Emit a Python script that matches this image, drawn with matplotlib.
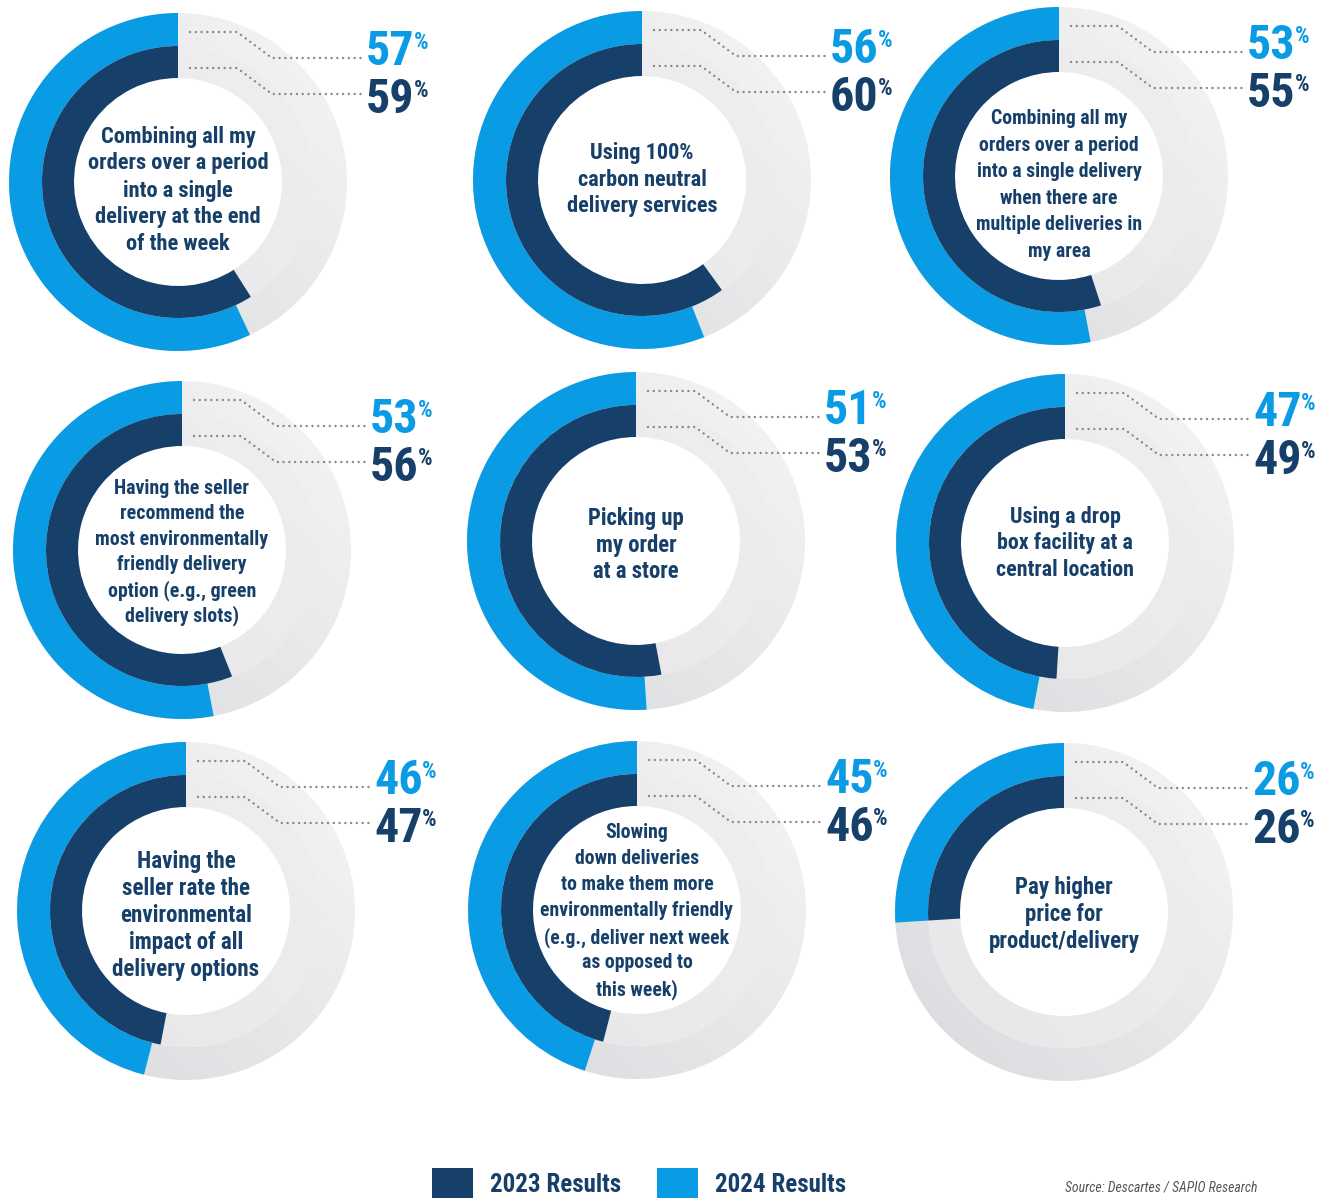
import matplotlib
matplotlib.use('Agg')
import matplotlib.pyplot as plt
import numpy as np
from matplotlib import font_manager
from matplotlib.patches import Wedge, Patch
from matplotlib.colors import LinearSegmentedColormap

W, H = 1326, 1198

# survey answers, in reading order (left to right, top to bottom)
questions = [
    'Combining all my\norders over a period\ninto a single\ndelivery at the end\nof the week',
    'Using 100%\ncarbon neutral\ndelivery services',
    'Combining all my\norders over a period\ninto a single delivery\nwhen there are\nmultiple deliveries in\nmy area',
    'Having the seller\nrecommend the\nmost environmentally\nfriendly delivery\noption (e.g., green\ndelivery slots)',
    'Picking up\nmy order\nat a store',
    'Using a drop\nbox facility at a\ncentral location',
    'Having the\nseller rate the\nenvironmental\nimpact of all\ndelivery options',
    'Slowing\ndown deliveries\nto make them more\nenvironmentally friendly\n(e.g., deliver next week\nas opposed to\nthis week)',
    'Pay higher\nprice for\nproduct/delivery',
]
results_2024 = [57, 56, 53, 53, 51, 47, 46, 45, 26]
results_2023 = [59, 60, 55, 56, 53, 49, 47, 46, 26]
legend_labels = ['2023 Results', '2024 Results']
source_note = 'Source: Descartes / SAPIO Research'

navy = '#163f69'
blue = '#0a9be5'
dot_grey = '#8a8a8a'

# a condensed face if one is around, otherwise plain Roboto
available = {f.name for f in font_manager.fontManager.ttflist}
cond = 'Roboto'
for name in ('Roboto Condensed', 'Liberation Sans Narrow'):
    if name in available:
        cond = name
        break

# donut centres in pixel coords (y down), caption size, line step and shift (px)
centres = [(178, 182), (642, 180), (1059, 176),
           (182, 550), (636, 541), (1065, 543),
           (186, 911), (637, 910), (1064, 912)]
caption_sizes = [16.1, 16.0, 14.2, 14.3, 16.4, 15.8, 16.6, 14.2, 16.5]
line_steps = [27, 26.5, 26.5, 25.5, 26.5, 26.5, 27, 26, 27]
caption_shift = [4, -5, 5, -2, 0, -4, 0, -3, -2]

r_out, r_mid, r_in = 169, 136, 104

outer_cmap = LinearSegmentedColormap.from_list('outer', ['#d9dadd', '#f6f6f7'])
inner_cmap = LinearSegmentedColormap.from_list('inner', ['#e6e6e8', '#f0f0f1'])
grad = np.add.outer(np.linspace(1, 0, 64), np.linspace(0, 1, 64))

fig = plt.figure(figsize=(W / 100, H / 100), dpi=100)
ax = fig.add_axes([0, 0, 1, 1])

for q, v24, v23, (px, py), fs, step, shift in zip(questions, results_2024, results_2023,
                                                  centres, caption_sizes, line_steps,
                                                  caption_shift):
    cx, cy = px, H - py
    ext = (cx - r_out, cx + r_out, cy - r_out, cy + r_out)

    # grey track with a soft diagonal gradient
    for r, w, cmap in ((r_out, r_out - r_mid, outer_cmap), (r_mid, r_mid - r_in, inner_cmap)):
        ring = Wedge((cx, cy), r, 0, 360, width=w, facecolor='none', edgecolor='none')
        ax.add_patch(ring)
        im = ax.imshow(grad, cmap=cmap, extent=ext, vmin=0, vmax=2,
                       interpolation='bicubic', zorder=1)
        im.set_clip_path(ring)

    ax.pie([v24, 100 - v24], radius=r_out, center=(cx, cy), startangle=90,
           counterclock=True, colors=[blue, 'none'],
           wedgeprops=dict(width=r_out - r_mid, linewidth=0, zorder=2))
    ax.pie([v23, 100 - v23], radius=r_mid, center=(cx, cy), startangle=90,
           counterclock=True, colors=[navy, 'none'],
           wedgeprops=dict(width=r_mid - r_in, linewidth=0, zorder=2))

    # dotted leader lines to the numbers
    for top in (150, 114):
        ax.plot(cx + np.array([12, 59, 94, 186]),
                cy + np.array([top, top, top - 26, top - 26]),
                color=dot_grey, lw=1.8, linestyle=(0, (0.01, 2.3)),
                dash_capstyle='round', zorder=3)

    for val, base, col in ((v24, 117, blue), (v23, 69, navy)):
        t = ax.text(cx + 188, cy + base, str(val), ha='left', va='baseline',
                    fontsize=34.5, fontweight='bold', color=col, family=cond, zorder=4)
        ax.annotate('%', xy=(1, 1), xycoords=t, xytext=(-0.5, -1.5),
                    textcoords='offset points', ha='left', va='top',
                    fontsize=16.5, fontweight='bold', color=col, family=cond)

    # caption, one text per line so the spacing stays even
    lines = q.split('\n')
    n = len(lines)
    for i, line in enumerate(lines):
        ax.text(cx, cy - 2 - shift + (n - 1) / 2 * step - i * step, line,
                ha='center', va='center_baseline', fontsize=fs, fontweight='bold',
                color=navy, family=cond, zorder=4)

ax.set_xlim(0, W)
ax.set_ylim(0, H)
ax.set_aspect('equal')
ax.axis('off')

fig.legend(handles=[Patch(facecolor=navy), Patch(facecolor=blue)], labels=legend_labels,
           loc='lower left', bbox_to_anchor=(432 / W, 0), ncol=2, frameon=False,
           prop={'family': cond, 'weight': 'bold', 'size': 18}, labelcolor=navy,
           handlelength=1.64, handleheight=1.44, handletextpad=0.68,
           columnspacing=1.44, borderpad=0, borderaxespad=0)

fig.text(1065 / W, 1 - 1187 / H, source_note, ha='left', va='center',
         fontsize=9.9, style='italic', color='#555555', family=cond)

fig.savefig('out.png', dpi=100)
